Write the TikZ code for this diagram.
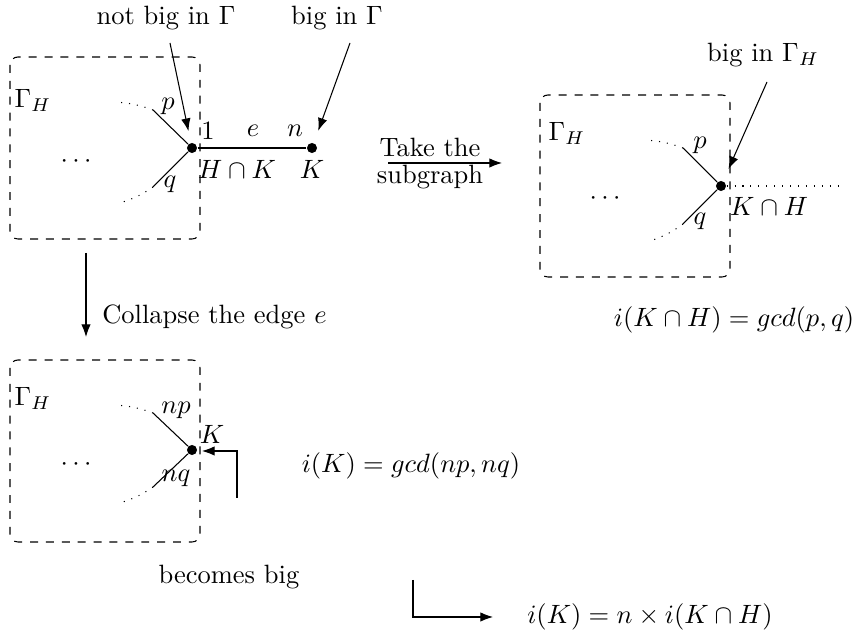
\documentclass[tikz,border=0pt]{standalone}
\usetikzlibrary{arrows.meta, positioning}

\tikzset{
  vtx/.style={circle, fill, inner sep=0pt, minimum size=3.8pt},
  gbox/.style={draw, dashed, rounded corners=3pt},
  stub/.style={dash pattern=on 0.4pt off 2.6pt},
  lbl/.style={inner sep=1pt},
}

\begin{document}
\begin{tikzpicture}[x=0.01327cm, y=-0.01327cm, >=Latex]
  \useasboundingbox (0,0) rectangle (858,635);

  % top left: Gamma_H with the edge e
  \draw[gbox] (10,57) rectangle (200,239);
  \node (gl) at (33,100) {$\Gamma_H$};
  \node (dl) at (76,162) {$\cdots$};
  \node[vtx] (hk) at (192,148) {};
  \node[vtx] (k) at (312,148) {};
  \coordinate (pa) at (153,110);
  \coordinate (pb) at (115,102);
  \coordinate (qa) at (153,187);
  \coordinate (qb) at (123,202);
  \draw (hk) -- (pa);
  \draw[stub] (pa) to[bend right=8] (pb);
  \draw (hk) -- (qa);
  \draw[stub] (qa) to[bend left=8] (qb);
  \draw (hk) -- (k);
  \node[lbl] (lp) at (168,106) {$p$};
  \node[lbl] (lq) at (170,184) {$q$};
  \node[lbl] (l1) at (208,131) {$1$};
  \node[lbl] (le) at (253,131) {$e$};
  \node[lbl] (ln) at (295,131) {$n$};
  \node[lbl] (lhk) at (237,169) {$H\cap K$};
  \node[lbl] (lk) at (312,169) {$K$};

  \node (nb) at (166,18) {not big in $\Gamma$};
  \node (bg) at (337,18) {big in $\Gamma$};
  \coordinate (nbs) at (170,43);
  \coordinate (bgs) at (350,43);
  \draw[->, shorten >=4.4pt] (nbs) -- (hk);
  \draw[->, shorten >=4.8pt] (bgs) -- (k);

  % take the subgraph
  \node (tk) at (430,147) {Take the};
  \node (sg) at (430,177) {subgraph};
  \coordinate (ta) at (388,163);
  \coordinate (tb) at (502,163);
  \draw[->] (ta) -- (tb);

  % top right: the subgraph
  \draw[gbox] (540,95) rectangle (730,277);
  \node (gr) at (567,133) {$\Gamma_H$};
  \node (dr) at (605,199) {$\cdots$};
  \node[vtx] (kh) at (721,186) {};
  \coordinate (rpa) at (683,148);
  \coordinate (rpb) at (645,140);
  \coordinate (rqa) at (683,224);
  \coordinate (rqb) at (653,240);
  \coordinate (rend) at (838,186);
  \draw (kh) -- (rpa);
  \draw[stub] (rpa) to[bend right=8] (rpb);
  \draw (kh) -- (rqa);
  \draw[stub] (rqa) to[bend left=8] (rqb);
  \draw[stub] (kh) -- (rend);
  \node[lbl] (rp) at (700,145) {$p$};
  \node[lbl] (rq) at (700,221) {$q$};
  \node[lbl] (rkh) at (769,206) {$K\cap H$};
  \node (bgh) at (763,55) {big in $\Gamma_H$};
  \coordinate (bghs) at (767,82);
  \draw[->, shorten >=4.9pt] (bghs) -- (kh);
  \node (ikh) at (734,320) {$i(K\cap H) = gcd(p,q)$};

  % collapse the edge
  \coordinate (ca) at (86,253);
  \coordinate (cb) at (86,337);
  \draw[->] (ca) -- (cb);
  \node[anchor=west] (cl) at (93,317) {Collapse the edge $e$};

  % bottom left: after collapsing
  \draw[gbox] (10,360) rectangle (200,542);
  \node (gb) at (33,398) {$\Gamma_H$};
  \node (db) at (76,465) {$\cdots$};
  \node[vtx] (kb) at (192,450) {};
  \coordinate (bpa) at (153,413);
  \coordinate (bpb) at (115,405);
  \coordinate (bqa) at (153,487);
  \coordinate (bqb) at (123,502);
  \draw (kb) -- (bpa);
  \draw[stub] (bpa) to[bend right=8] (bpb);
  \draw (kb) -- (bqa);
  \draw[stub] (bqa) to[bend left=8] (bqb);
  \node[lbl] (bnp) at (176,410) {$np$};
  \node[lbl] (bnq) at (176,478) {$nq$};
  \node[lbl] (bk) at (212,434) {$K$};
  \node (bb) at (229,577) {becomes big};
  \coordinate (bba) at (237,498);
  \coordinate (bbt) at (202,451);
  \draw[->] (bba) |- (bbt);
  \node (ik) at (411,466) {$i(K) = gcd(np,nq)$};

  % conclusion
  \coordinate (fa) at (413,580);
  \coordinate (fb) at (493,617);
  \draw[->] (fa) |- (fb);
  \node (res) at (650,617) {$i(K) = n\times i(K\cap H)$};
\end{tikzpicture}
\end{document}
